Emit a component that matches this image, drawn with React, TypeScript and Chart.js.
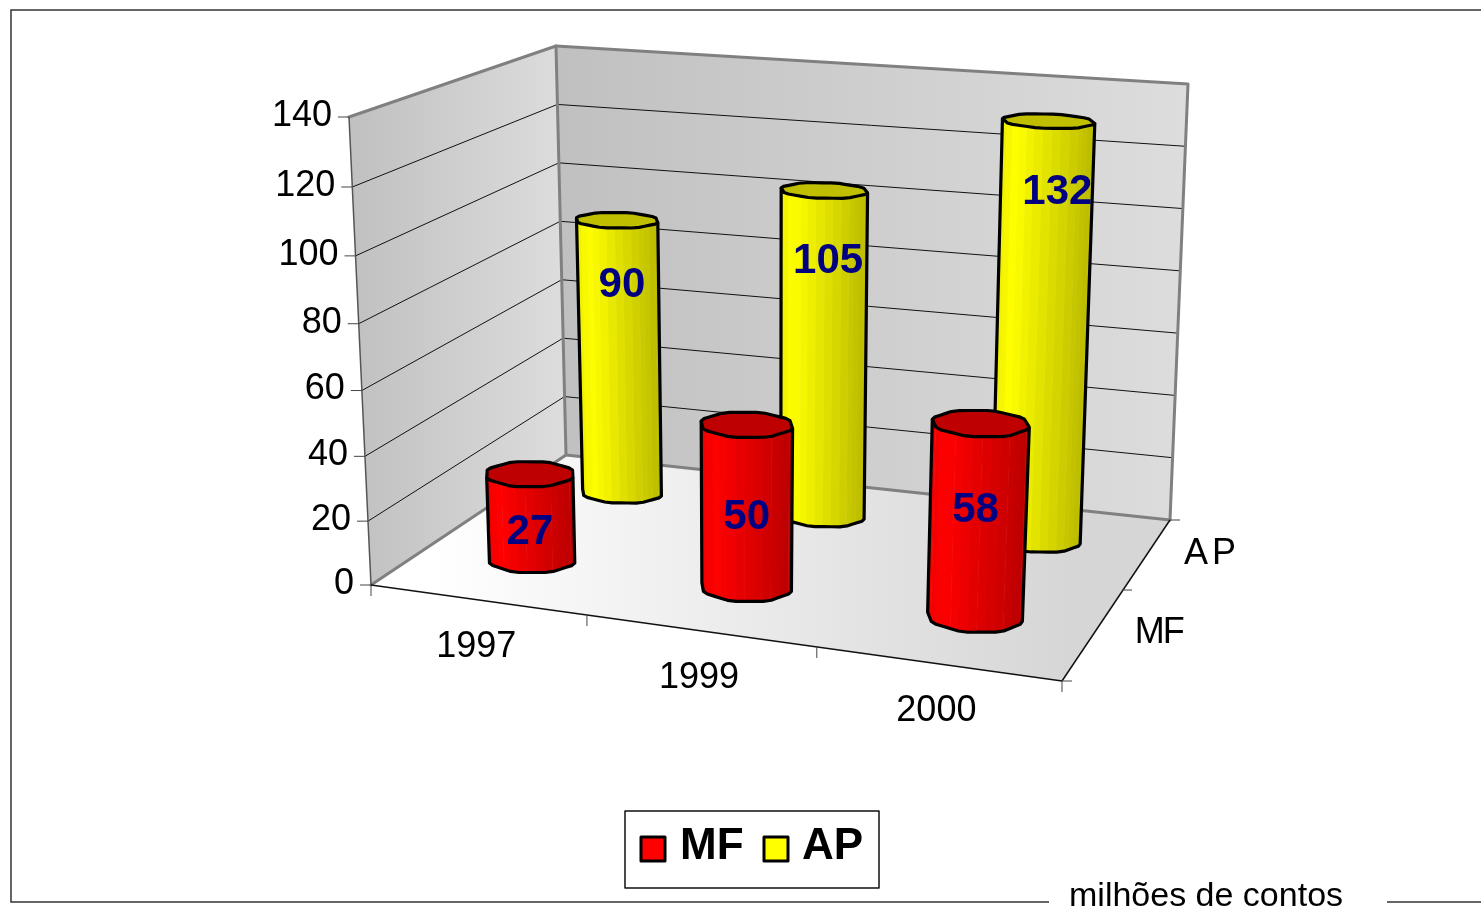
import React, { useEffect, useRef } from "react";
import { Chart, registerables } from "chart.js";

Chart.register(...registerables);

const categories = ["1997", "1999", "2000"];
const seriesNames = ["MF", "AP"];
const mfValues = [27, 50, 58];
const apValues = [90, 105, 132];
const valueTicksMax = 140;
const valueTickStep = 20;
const caption = "milhões de contos";

// layout of the 3D box (pixels on the canvas)
const FL = [371, 585], FR = [1062, 681], BR = [1170, 520], BL = [566, 455];
const FLt = [349, 117], FRt = [1085, 177], BRt = [1188, 84], BLt = [556, 46];
const RU = 0.0644, RV = 0.082, FACETS = 32;
// label offset from the top of each cylinder [dx, dy], per series then category
const LABEL_OFFSETS = [
  [[0, 59], [0, 93], [-5, 87]],
  [[5, 65], [4, 71], [9, 71]],
];
const SERIES_RGB = [[255, 0, 0], [255, 255, 0]];
const SANS = '"Liberation Sans", Arial, sans-serif';

const warp = (t: number, k: number) => t / (t + k * (1 - t));
const mix = (a: number[], b: number[], t: number) => [a[0] + (b[0] - a[0]) * t, a[1] + (b[1] - a[1]) * t];

function project(u: number, v: number, w: number) {
  const uu = warp(u, 1.1);
  const vv = warp(v, 0.77);
  const k = 1.055 - 0.055 * vv;
  const ww = w <= 0 ? 0 : warp(w, k);
  const floor = mix(mix(FL, FR, uu), mix(BL, BR, uu), vv);
  const top = mix(mix(FLt, FRt, uu), mix(BLt, BRt, uu), vv);
  return mix(floor, top, ww);
}

const poly = (ctx: CanvasRenderingContext2D, pts: number[][], close = true) => {
  ctx.beginPath();
  pts.forEach((p, i) => (i ? ctx.lineTo(p[0], p[1]) : ctx.moveTo(p[0], p[1])));
  if (close) ctx.closePath();
};
const seg = (ctx: CanvasRenderingContext2D, a: number[], b: number[], color: string, width: number) => {
  ctx.strokeStyle = color;
  ctx.lineWidth = width;
  ctx.beginPath();
  ctx.moveTo(a[0], a[1]);
  ctx.lineTo(b[0], b[1]);
  ctx.stroke();
};
const grad = (ctx: CanvasRenderingContext2D, x0: number, x1: number, c0: string, c1: string) => {
  const g = ctx.createLinearGradient(x0, 0, x1, 0);
  g.addColorStop(0, c0);
  g.addColorStop(1, c1);
  return g;
};

function drawCylinder(ctx: CanvasRenderingContext2D, u: number, v: number, w: number, rgb: number[]) {
  const ring = (h: number) => {
    const out: number[][] = [];
    for (let i = 0; i < FACETS; i++) {
      const a = (i / FACETS) * Math.PI * 2 + 0.1;
      const bump = 1 + 0.028 * Math.cos(a * 8);
      out.push(project(u + RU * bump * Math.cos(a), v + RV * bump * Math.sin(a), h));
    }
    return out;
  };
  const base = ring(0);
  const top = ring(w);
  let iMin = 0, iMax = 0;
  base.forEach((p, i) => {
    if (p[0] < base[iMin][0]) iMin = i;
    if (p[0] > base[iMax][0]) iMax = i;
  });
  const front: number[] = [];
  for (let i = iMin; ; i = (i + 1) % FACETS) {
    front.push(i);
    if (i === iMax) break;
  }
  const x0 = base[iMin][0], x1 = base[iMax][0];
  for (let n = 0; n < front.length - 1; n++) {
    const i = front[n], j = front[n + 1];
    const f = Math.min(1, Math.max(0, ((base[i][0] + base[j][0]) / 2 - x0) / (x1 - x0)));
    const s = f < 0.15 ? 0.93 + (f / 0.15) * 0.07 : 1 - ((f - 0.15) / 0.85) * 0.27;
    const c = `rgb(${Math.round(rgb[0] * s)},${Math.round(rgb[1] * s)},${rgb[2]})`;
    poly(ctx, [top[i], top[j], base[j], base[i]]);
    ctx.fillStyle = c;
    ctx.strokeStyle = c;
    ctx.lineWidth = 1;
    ctx.fill();
    ctx.stroke();
    if (n % 3 === 2) seg(ctx, top[j], base[j], "rgba(255,255,255,0.22)", 1);
  }
  ctx.lineJoin = "round";
  ctx.lineWidth = 3.2;
  ctx.strokeStyle = "#000";
  poly(ctx, [top[iMin], ...front.map((i) => base[i]), top[iMax]], false);
  ctx.stroke();
  poly(ctx, top);
  ctx.fillStyle = `rgb(${Math.round(rgb[0] * 0.75)},${Math.round(rgb[1] * 0.75)},0)`;
  ctx.fill();
  ctx.stroke();
}

const box3dPlugin = {
  id: "box3d",
  beforeDatasetsDraw(chart: any) {
    const ctx: CanvasRenderingContext2D = chart.ctx;
    const { x: xs, y: ys } = chart.scales;
    const area = chart.chartArea;
    const toU = (i: number) => (xs.getPixelForValue(i) - area.left) / (area.right - area.left);
    const toW = (val: number) => (area.bottom - ys.getPixelForValue(val)) / (area.bottom - area.top);
    const nCat = chart.data.labels.length;
    const nSer = chart.data.datasets.length;
    const toV = (d: number) => (d + 0.5) / nSer;

    ctx.save();
    // walls and floor
    poly(ctx, [FL, BL, BLt, FLt]);
    ctx.fillStyle = grad(ctx, 349, 566, "#c0c0c0", "#dddddd");
    ctx.fill();
    poly(ctx, [BL, BR, BRt, BLt]);
    ctx.fillStyle = grad(ctx, 556, 1188, "#c0c0c0", "#dddddd");
    ctx.fill();
    poly(ctx, [FL, FR, BR, BL]);
    ctx.fillStyle = grad(ctx, 430, 1070, "#ffffff", "#d6d6d6");
    ctx.fill();

    // gridlines
    const ticks = ys.ticks.map((t: any) => t.value);
    ticks.forEach((val: number) => {
      const w = toW(val);
      if (val > 0 && val < valueTicksMax) {
        const a = project(0, 0, w), b = project(0, 1, w), c = project(1, 1, w);
        seg(ctx, a, b, "#111", 1);
        seg(ctx, b, c, "#111", 1);
      }
    });
    // wall edges
    ctx.lineCap = "round";
    ctx.lineJoin = "round";
    ctx.strokeStyle = "#808080";
    ctx.lineWidth = 3;
    poly(ctx, [FL, BL, BLt, FLt], false);
    ctx.stroke();
    poly(ctx, [BL, BR, BRt, BLt], false);
    ctx.stroke();
    ctx.lineCap = "butt";
    seg(ctx, FL, FLt, "#555", 1.5);
    seg(ctx, FL, FR, "#111", 1.5);
    seg(ctx, FR, BR, "#111", 1.5);

    // axis ticks + labels
    ctx.fillStyle = "#000";
    ctx.font = `36px ${SANS}`;
    ctx.textBaseline = "middle";
    ctx.textAlign = "right";
    ys.ticks.forEach((t: any) => {
      const p = project(0, 0, toW(t.value));
      seg(ctx, [p[0] - 11, p[1]], p, "#444", 1);
      ctx.fillText(String(t.label), p[0] - 17, p[1] - 1);
    });
    for (let i = 0; i <= nCat; i++) {
      const p = project(i / nCat, 0, 0);
      seg(ctx, p, [p[0], p[1] + 11], "#444", 1);
    }
    for (let d = 0; d <= nSer; d++) {
      const p = project(1, d / nSer, 0);
      if (d === 1) seg(ctx, [p[0] - 1, p[1]], [p[0] + 9, p[1]], "#444", 1);
      else seg(ctx, p, [p[0] + 10, p[1]], "#444", 1);
    }
    ctx.textAlign = "center";
    chart.data.labels.forEach((lab: string, i: number) => {
      const p = project(toU(i), 0, 0);
      ctx.fillText(lab, p[0] - 1, p[1] + 47);
    });
    chart.data.datasets.forEach((ds: any, d: number) => {
      const p = project(1, toV(d), 0);
      (ctx as any).letterSpacing = ds.label === "AP" ? "4px" : "-2px";
      ctx.fillText(ds.label, p[0] + 64, p[1] + 1);
      (ctx as any).letterSpacing = "0px";
    });

    // cylinders, far series first
    for (let d = nSer - 1; d >= 0; d--) {
      const ds = chart.data.datasets[d];
      ds.data.forEach((val: number, i: number) => {
        drawCylinder(ctx, toU(i), toV(d), toW(val), SERIES_RGB[d]);
      });
    }
    // value labels
    ctx.font = `bold 42px ${SANS}`;
    ctx.fillStyle = "#000080";
    chart.data.datasets.forEach((ds: any, d: number) => {
      ds.data.forEach((val: number, i: number) => {
        const p = project(toU(i), toV(d), toW(val));
        const off = LABEL_OFFSETS[d][i];
        ctx.fillText(String(val), p[0] + off[0], p[1] + off[1]);
      });
    });

    // legend
    ctx.fillStyle = "#fff";
    ctx.fillRect(625, 811, 254, 77);
    ctx.strokeStyle = "#111";
    ctx.lineWidth = 1.5;
    ctx.strokeRect(625, 811, 254, 77);
    ctx.font = `bold 44px ${SANS}`;
    ctx.textAlign = "left";
    const legendX = [[641, 680], [764, 802]];
    chart.data.datasets.forEach((ds: any, d: number) => {
      ctx.fillStyle = ds.backgroundColor;
      ctx.fillRect(legendX[d][0], 837, 24, 24);
      ctx.strokeStyle = "#000";
      ctx.lineWidth = 3;
      ctx.lineJoin = "round";
      ctx.strokeRect(legendX[d][0], 837, 24, 24);
      ctx.fillStyle = "#000";
      ctx.fillText(ds.label, legendX[d][1], 847);
    });

    // frame and caption
    ctx.lineJoin = "miter";
    ctx.strokeStyle = "#333";
    ctx.lineWidth = 1.5;
    poly(ctx, [[1481, 10], [11, 10], [11, 902], [1049, 902]], false);
    ctx.stroke();
    seg(ctx, [1387, 902], [1481, 902], "#333", 1.5);
    ctx.fillStyle = "#000";
    ctx.font = `34px ${SANS}`;
    ctx.textAlign = "left";
    ctx.fillText(caption, 1069, 897);
    ctx.restore();
    return false;
  },
};

export default function App() {
  const ref = useRef<HTMLCanvasElement>(null);
  useEffect(() => {
    const chart = new Chart(ref.current as HTMLCanvasElement, {
      type: "bar",
      data: {
        labels: categories,
        datasets: [
          { label: seriesNames[0], data: mfValues, backgroundColor: "#ff0000" },
          { label: seriesNames[1], data: apValues, backgroundColor: "#ffff00" },
        ],
      },
      options: {
        animation: false,
        responsive: false,
        layout: { padding: 0 },
        scales: {
          x: { display: false },
          y: { display: false, min: 0, max: valueTicksMax, ticks: { stepSize: valueTickStep } },
        },
        plugins: { legend: { display: false }, tooltip: { enabled: false } },
      },
      plugins: [box3dPlugin],
    } as any);
    return () => chart.destroy();
  }, []);
  return (
    <div style={{ position: "fixed", left: 0, top: 0, width: 1481, height: 912, overflow: "hidden", background: "#fff" }}>
      <canvas ref={ref} width={1481} height={912} style={{ display: "block" }} />
    </div>
  );
}
